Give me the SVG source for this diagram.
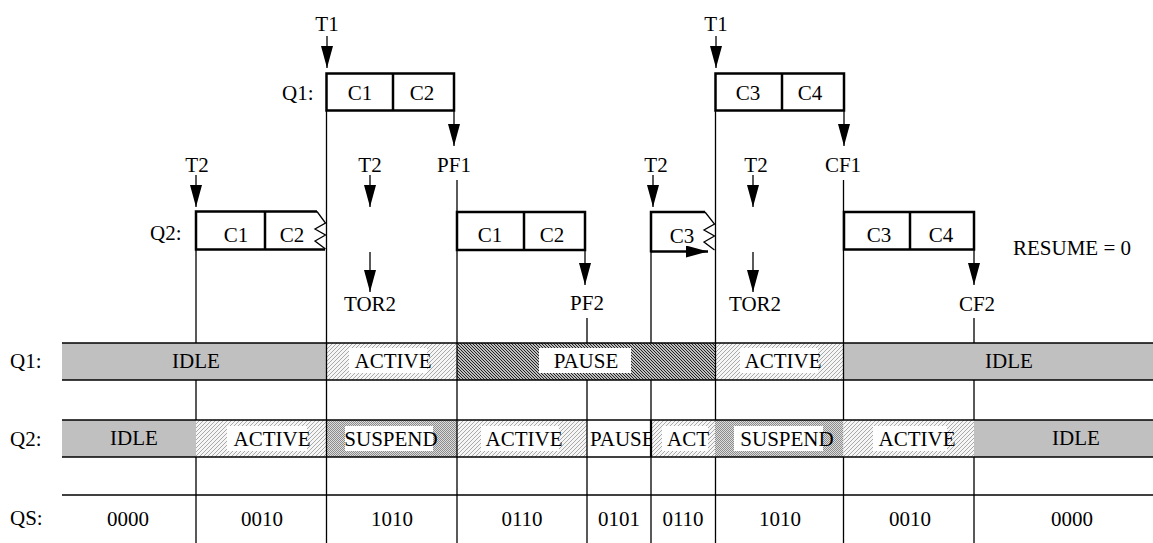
<svg xmlns="http://www.w3.org/2000/svg" width="1153" height="543" viewBox="0 0 1153 543">
<style>
text{font-family:"Liberation Serif","Times New Roman",serif;font-size:21px;fill:#000}
.m{text-anchor:middle}
.box{fill:none;stroke:#000;stroke-width:2.5}
.arr{stroke:#000;stroke-width:1.3;fill:none;marker-end:url(#ah)}
.vl{stroke:#000;stroke-width:1.3}
.bb{stroke:#000;stroke-width:1.6}
.idle{fill:#c0c0c0}
.act{fill:url(#light)}
.pau{fill:url(#dark)}
.sus{fill:url(#dots)}
.wb{fill:#fff}
</style>
<defs>
<marker id="ah" markerUnits="userSpaceOnUse" markerWidth="23" markerHeight="13" refX="22" refY="6" orient="auto">
<path d="M0,0 L22,6 L0,12 z" fill="#000"/>
</marker>
<pattern id="light" width="4" height="4" patternUnits="userSpaceOnUse">
<rect width="4" height="4" fill="#f6f6f6"/>
<path d="M-1,1 L1,-1 M0,4 L4,0 M3,5 L5,3" stroke="#a0a0a0" stroke-width="0.9"/>
</pattern>
<pattern id="dark" width="3" height="3" patternUnits="userSpaceOnUse">
<rect width="3" height="3" fill="#bdbdbd"/>
<path d="M-1,-1 L4,4 M-1,2 L1,4 M2,-1 L4,1" stroke="#222" stroke-width="1"/>
</pattern>
<pattern id="dots" width="2" height="2" patternUnits="userSpaceOnUse">
<rect width="2" height="2" fill="#dcdcdc"/>
<rect width="1" height="1" fill="#8c8c8c"/>
<rect x="1" y="1" width="1" height="1" fill="#8c8c8c"/>
</pattern>
<clipPath id="pclip"><rect x="587" y="420" width="63" height="37"/></clipPath>
</defs>

<g id="row-labels">
<text x="10" y="368">Q1:</text>
<text x="10" y="446">Q2:</text>
<text x="10" y="525">QS:</text>
</g>

<g id="q1-bar">
<rect class="idle" x="62" y="343" width="264.5" height="37"/>
<rect class="act" x="326.5" y="343" width="130.5" height="37"/>
<rect class="pau" x="457" y="343" width="258" height="37"/>
<rect class="act" x="715" y="343" width="128.5" height="37"/>
<rect class="idle" x="843.5" y="343" width="309.5" height="37"/>
<rect class="wb" x="349" y="348" width="78" height="25"/>
<rect class="wb" x="539" y="348" width="92" height="25"/>
<rect class="wb" x="740" y="348" width="78" height="25"/>
<line class="bb" x1="62" y1="343" x2="1153" y2="343"/>
<line class="bb" x1="62" y1="380" x2="1153" y2="380"/>
<text class="m" x="196" y="368">IDLE</text>
<text class="m" x="393" y="368">ACTIVE</text>
<text class="m" x="586" y="368">PAUSE</text>
<text class="m" x="783" y="368">ACTIVE</text>
<text class="m" x="1009" y="368">IDLE</text>
</g>

<g id="q2-bar">
<rect class="idle" x="62" y="420" width="134" height="37"/>
<rect class="act" x="196" y="420" width="130.5" height="37"/>
<rect class="sus" x="326.5" y="420" width="130.5" height="37"/>
<rect class="act" x="457" y="420" width="130" height="37"/>
<rect fill="#fff" x="587" y="420" width="64" height="37"/>
<rect class="act" x="651" y="420" width="64" height="37"/>
<rect class="sus" x="715" y="420" width="128.5" height="37"/>
<rect class="act" x="843.5" y="420" width="130.5" height="37"/>
<rect class="idle" x="974" y="420" width="179" height="37"/>
<rect class="wb" x="227" y="426" width="80" height="25"/>
<rect class="wb" x="345" y="426" width="88" height="25"/>
<rect class="wb" x="481" y="426" width="78" height="25"/>
<rect class="wb" x="662" y="426" width="46" height="25"/>
<rect class="wb" x="734" y="426" width="89" height="25"/>
<rect class="wb" x="873" y="426" width="74" height="25"/>
<line class="bb" x1="62" y1="420" x2="1153" y2="420"/>
<line class="bb" x1="62" y1="457" x2="1153" y2="457"/>
<text class="m" x="134" y="445">IDLE</text>
<text class="m" x="272" y="446">ACTIVE</text>
<text class="m" x="391" y="446">SUSPEND</text>
<text class="m" x="524" y="446">ACTIVE</text>
<text x="590" y="446" clip-path="url(#pclip)">PAUSE</text>
<text class="m" x="688" y="446">ACT</text>
<text class="m" x="787" y="446">SUSPEND</text>
<text class="m" x="917" y="446">ACTIVE</text>
<text class="m" x="1076" y="445">IDLE</text>
</g>

<g id="qs-row">
<line class="vl" x1="62" y1="495" x2="1153" y2="495"/>
<text class="m" x="128" y="526">0000</text>
<text class="m" x="262" y="526">0010</text>
<text class="m" x="392" y="526">1010</text>
<text class="m" x="522" y="526">0110</text>
<text class="m" x="619" y="526">0101</text>
<text class="m" x="683" y="526">0110</text>
<text class="m" x="780" y="526">1010</text>
<text class="m" x="910" y="526">0010</text>
<text class="m" x="1072" y="526">0000</text>
</g>

<g id="time-lines">
<path class="vl" d="M196,249 V343 M196,380 V420 M196,457 V543"/>
<path class="vl" d="M326.5,110 V543"/>
<path class="vl" d="M457,180 V543"/>
<path class="vl" d="M587,318 V343 M587,380 V543"/>
<path class="vl" d="M651,252 V343 M651,380 V543"/>
<line x1="651" y1="420" x2="651" y2="457" stroke="#000" stroke-width="2.2"/>
<path class="vl" d="M715.5,110 V420 M715.5,457 V543"/>
<path class="vl" d="M843.5,180 V420 M843.5,457 V543"/>
<path class="vl" d="M974,318 V343 M974,380 V420 M974,457 V543"/>
</g>

<g id="q1-frame-1">
<text x="282" y="100">Q1:</text>
<rect class="box" x="326.5" y="73.5" width="127.5" height="37"/>
<line class="box" x1="393" y1="73.5" x2="393" y2="110.5"/>
<text class="m" x="360" y="100">C1</text>
<text class="m" x="422" y="100">C2</text>
</g>

<g id="q1-frame-2">
<rect class="box" x="715.5" y="73.5" width="128.5" height="37"/>
<line class="box" x1="782" y1="73.5" x2="782" y2="110.5"/>
<text class="m" x="748" y="100">C3</text>
<text class="m" x="810" y="100">C4</text>
</g>

<g id="q2-frame-1">
<text x="150" y="240">Q2:</text>
<path class="box" d="M317,211.5 H196 V249.5 H325 M265,211.5 V249.5"/>
<path fill="none" stroke="#000" stroke-width="1.3" d="M317,211.5 L325.5,223 L315,229 L325.5,235 L315,241 L325.5,249"/>
<text class="m" x="236" y="242">C1</text>
<text class="m" x="292" y="242">C2</text>
</g>

<g id="q2-frame-2">
<rect class="box" x="457" y="212" width="128" height="38"/>
<line class="box" x1="524" y1="212" x2="524" y2="250"/>
<text class="m" x="490" y="242">C1</text>
<text class="m" x="552" y="242">C2</text>
</g>

<g id="q2-frame-3">
<path class="box" d="M705,212 H651 V252.5"/>
<path fill="none" stroke="#000" stroke-width="1.3" d="M705,212 L714.5,224 L704,230 L714.5,236 L704,242 L714.5,250"/>
<text class="m" x="682" y="243">C3</text>
</g>

<g id="q2-frame-4">
<rect class="box" x="844" y="212" width="130" height="37.5"/>
<line class="box" x1="910" y1="212" x2="910" y2="249.5"/>
<text class="m" x="879" y="242">C3</text>
<text class="m" x="941" y="242">C4</text>
</g>

<g id="event-labels">
<text class="m" x="327" y="31">T1</text>
<text class="m" x="716" y="31">T1</text>
<text class="m" x="197" y="172">T2</text>
<text class="m" x="370" y="172">T2</text>
<text class="m" x="656" y="172">T2</text>
<text class="m" x="756" y="172">T2</text>
<text class="m" x="454" y="172">PF1</text>
<text class="m" x="843" y="172">CF1</text>
<text class="m" x="370" y="311">TOR2</text>
<text class="m" x="755" y="311">TOR2</text>
<text class="m" x="587" y="310">PF2</text>
<text class="m" x="977" y="311">CF2</text>
<text x="1013" y="255">RESUME = 0</text>
</g>

<g id="connectors">
<line class="arr" x1="327" y1="36" x2="327" y2="68"/>
<line class="arr" x1="716" y1="36" x2="716" y2="68"/>
<line class="arr" x1="454" y1="110" x2="454" y2="146"/>
<line class="arr" x1="844" y1="110" x2="844" y2="146"/>
<line class="arr" x1="196" y1="175" x2="196" y2="207"/>
<line class="arr" x1="370" y1="175" x2="370" y2="207"/>
<line class="arr" x1="370" y1="252" x2="370" y2="292"/>
<line class="arr" x1="653" y1="175" x2="653" y2="207"/>
<line class="arr" x1="753" y1="175" x2="753" y2="207"/>
<line class="arr" x1="753" y1="252" x2="753" y2="292"/>
<line class="arr" x1="585" y1="250" x2="585" y2="285"/>
<line class="arr" x1="974" y1="250" x2="974" y2="285"/>
<line class="arr" x1="651" y1="251.5" x2="708" y2="251.5" style="stroke-width:2.5"/>
</g>
</svg>
